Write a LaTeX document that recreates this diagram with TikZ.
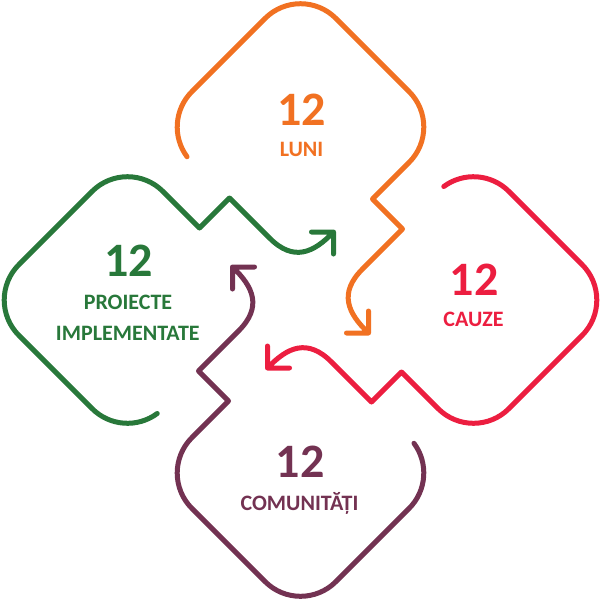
\documentclass[tikz,border=0pt]{standalone}
\usepackage{fontspec}
\setmainfont{Carlito}
\definecolor{corange}{RGB}{241,113,34}
\definecolor{cred}{RGB}{236,30,64}
\definecolor{cgreen}{RGB}{40,120,58}
\definecolor{cpurple}{RGB}{115,50,82}
\begin{document}
\begin{tikzpicture}[x=1pt,y=-1pt,line cap=round,line join=round]
\tikzset{
  loopline/.style={line width=5pt},
  bignum/.style={anchor=base,inner sep=0pt,font=\bfseries\fontsize{48}{48}\selectfont},
  smalltxt/.style={anchor=base,inner sep=0pt,font=\bfseries\fontsize{22}{22}\selectfont},
  loopshape/.style={insert path={
    (-113.48,29.74) arc[start angle=143.5,end angle=225,radius=50]
    -- (-35.36,-108.65) arc[start angle=225,end angle=315,radius=50]
    -- (108.65,-35.36) arc[start angle=315,end angle=405,radius=50]
    -- (72,72) -- (102,102) -- (62,142)
    .. controls (38,166) and (47,186) .. (68,206)
    (68,184) -- (68,206) -- (46,206)}}
}
\useasboundingbox (0,0) rectangle (601,600);
% loops
\begin{scope}[shift={(300.5,127)}]
  \draw[loopline,corange,loopshape];
\end{scope}
\begin{scope}[shift={(473.5,300)},rotate=-90]
  \draw[loopline,cred,loopshape];
\end{scope}
\begin{scope}[shift={(300.5,473)},rotate=180]
  \draw[loopline,cpurple,loopshape];
\end{scope}
\begin{scope}[shift={(127.5,300)},rotate=90]
  \draw[loopline,cgreen,loopshape];
\end{scope}
% texts
\node[bignum,text=corange] (o12) at (301.5,125) {12};
\node[smalltxt,text=corange] (oluni) at (301.5,156) {LUNI};
\node[bignum,text=cred] (r12) at (474.3,295) {12};
\node[smalltxt,text=cred] (rcauze) at (473.5,326.7) {CAUZE};
\node[bignum,text=cgreen] (g12) at (128.5,276.7) {12};
\node[smalltxt,text=cgreen] (gproi) at (128,309) {PROIECTE};
\node[smalltxt,text=cgreen] (gimpl) at (127.8,340.7) {IMPLEMENTATE};
\node[bignum,text=cpurple] (p12) at (300,477.7) {12};
\node[smalltxt,text=cpurple] (pcom) at (299.5,510.7) {COMUNITĂȚI};
\end{tikzpicture}
\end{document}
